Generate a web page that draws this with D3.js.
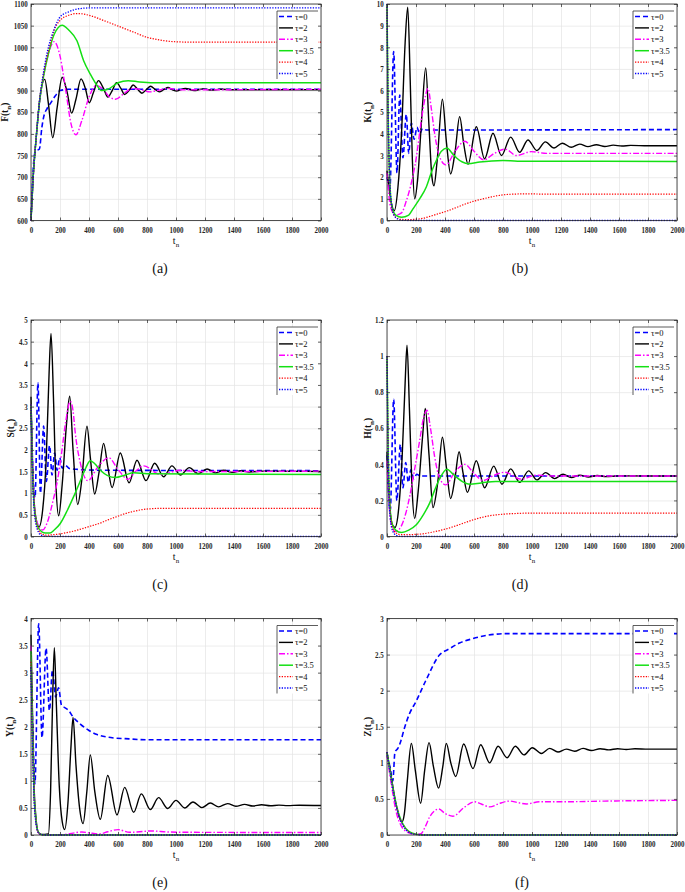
<!DOCTYPE html>
<html><head><meta charset="utf-8">
<script src="https://cdn.jsdelivr.net/npm/d3@7"></script>
<style>body{margin:0;background:#fff}svg{display:block}svg text{font-family:"Liberation Serif","DejaVu Serif",serif}</style>
</head><body>
<svg id="chart" width="685" height="892"></svg>
<script>
// ---------------- DATA ----------------
const xTicks = [0,200,400,600,800,1000,1200,1400,1600,1800,2000];
const tauLabels = ["τ=0","τ=2","τ=3","τ=3.5","τ=4","τ=5"];
const captions = ["(a)","(b)","(c)","(d)","(e)","(f)"];
const yNames = ["F","K","S","H","Y","Z"];

const F_ticks = [600,650,700,750,800,850,900,950,1000,1050,1100];
const K_ticks = [0,1,2,3,4,5,6,7,8,9,10];
const S_ticks = [0,0.5,1,1.5,2,2.5,3,3.5,4,4.5,5];
const H_ticks = [0,0.2,0.4,0.6,0.8,1,1.2];
const Y_ticks = [0,0.5,1,1.5,2,2.5,3,3.5,4];
const Z_ticks = [0,0.5,1,1.5,2,2.5,3];

// (a) F(t_n)
const F_tau0 = [[0,600],[12,700],[30,760],[58,765],[75,815],[88,840],[110,858],[133,870],[168,888],[202,900],[260,903],[2000,903]];
const F_tau2 = [[0,600],[15,700],[38,800],[60,878],[95,926],[120,870],[150,791],[180,860],[215,931],[250,895],[280,848],[310,880],[345,927],[375,905],[402,872],[430,895],[465,923],[500,905],[530,885],[560,900],[590,918],[620,905],[645,891],[675,900],[705,913],[735,903],[765,894],[795,902],[825,910],[855,903],[885,897],[915,902],[945,907],[975,902],[1005,899],[1065,905],[1125,900],[1185,904],[1245,901],[1305,903],[1400,902],[2000,902]];
const F_tau3 = [[0,600],[15,700],[38,800],[60,878],[85,930],[120,985],[160,1013],[200,980],[240,900],[275,825],[310,798],[350,830],[400,885],[450,912],[500,902],[540,886],[582,880],[640,893],[700,905],[760,902],[820,897],[880,901],[950,905],[1020,902],[1100,902],[2000,903]];
const F_tau35 = [[0,600],[15,700],[38,800],[60,878],[85,930],[120,985],[160,1030],[215,1051],[260,1040],[317,1015],[363,969],[409,938],[455,912],[485,900],[530,903],[600,918],[670,923],[750,920],[900,918],[2000,918]];
const F_tau4 = [[0,600],[15,700],[38,800],[60,880],[85,935],[120,990],[160,1040],[200,1062],[260,1074],[320,1078],[400,1074],[500,1062],[593,1050],[708,1035],[800,1023],[869,1018],[984,1013],[1100,1012],[2000,1012]];
const F_tau5 = [[0,600],[15,700],[38,800],[60,880],[85,940],[120,1000],[160,1042],[200,1070],[260,1082],[330,1089],[410,1091],[500,1091],[2000,1091]];

// (b) K(t_n)
const K_tau0 = [[0,2.0],[20,1.5],[46,7.8],[69,2.2],[88,5.8],[110,2.9],[133,4.9],[150,3.1],[168,4.5],[187,3.75],[207,4.3],[225,4.0],[245,4.25],[270,4.18],[2000,4.2]];
const K_tau2 = [[0,2.3],[25,1.0],[50,0.45],[75,1.5],[100,4.0],[125,8.2],[143,9.85],[160,6.5],[175,2.8],[191,1.0],[210,1.8],[240,4.8],[267,7.05],[290,4.3],[310,2.0],[324,1.6],[345,2.7],[382,5.6],[410,3.6],[439,2.15],[470,3.2],[501,4.8],[530,3.5],[559,2.6],[616,4.33],[673,2.85],[731,4.03],[789,3.0],[853,3.85],[915,3.15],[972,3.72],[1034,3.23],[1092,3.63],[1152,3.35],[1209,3.57],[1271,3.38],[1329,3.53],[1386,3.41],[1444,3.5],[1502,3.42],[1560,3.48],[1620,3.44],[1680,3.47],[1800,3.45],[2000,3.45]];
const K_tau3 = [[0,2.2],[25,0.6],[60,0.25],[100,0.35],[133,0.9],[170,1.8],[202,2.9],[230,4.3],[250,5.2],[283,6.1],[305,5.2],[329,4.0],[360,3.0],[405,2.57],[470,3.2],[536,3.66],[600,3.2],[667,2.8],[740,3.1],[816,3.3],[892,3.0],[995,3.18],[1100,3.1],[2000,3.1]];
const K_tau35 = [[0,10],[8,5],[18,2],[35,0.6],[60,0.25],[100,0.15],[150,0.25],[179,0.54],[225,1.0],[271,1.55],[310,2.3],[340,2.77],[375,3.2],[414,3.35],[450,3.1],[478,2.9],[520,2.7],[559,2.62],[640,2.7],[800,2.77],[900,2.74],[2000,2.73]];
const K_tau4 = [[0,10],[8,5],[18,2],[35,0.5],[60,0.15],[100,0.05],[150,0.04],[200,0.06],[248,0.1],[300,0.2],[363,0.33],[420,0.45],[478,0.6],[535,0.75],[593,0.88],[650,0.98],[708,1.07],[765,1.15],[823,1.2],[880,1.22],[950,1.23],[1100,1.22],[2000,1.22]];
const K_tau5 = [[0,10],[8,5],[18,2],[30,0.8],[45,0.3],[70,0.08],[100,0.01],[150,0],[2000,0]];

// (c) S(t_n)
const S_tau0 = [[0,3.05],[12,1.6],[28,0.9],[48,3.55],[65,1.0],[87,2.55],[106,1.27],[128,2.1],[145,1.42],[163,1.93],[180,1.53],[198,1.82],[215,1.58],[235,1.65],[265,1.57],[320,1.55],[500,1.53],[2000,1.52]];
const S_tau2 = [[0,3.23],[15,1.2],[35,0.4],[55,0.22],[80,0.6],[105,1.8],[125,3.8],[138,4.69],[155,3.2],[172,1.2],[191,0.48],[215,1.2],[245,2.6],[267,3.24],[290,2.0],[322,0.74],[350,1.3],[386,2.55],[410,1.8],[439,0.98],[470,1.5],[501,2.15],[530,1.6],[559,1.13],[616,1.93],[676,1.24],[731,1.76],[793,1.29],[853,1.69],[915,1.38],[972,1.63],[1030,1.42],[1092,1.59],[1152,1.45],[1214,1.56],[1271,1.47],[1329,1.53],[1388,1.48],[1446,1.52],[1505,1.49],[1600,1.51],[2000,1.5]];
const S_tau3 = [[0,3.05],[15,1.3],[35,0.4],[80,0.15],[120,0.4],[150,0.8],[179,1.23],[210,1.9],[237,2.6],[271,3.12],[290,2.9],[306,2.37],[340,1.7],[391,1.29],[460,1.6],[536,1.82],[600,1.55],[669,1.32],[720,1.5],[777,1.63],[892,1.43],[1030,1.53],[1150,1.5],[2000,1.51]];
const S_tau35 = [[0,3.05],[10,1.6],[25,0.6],[50,0.2],[100,0.08],[130,0.08],[160,0.15],[202,0.3],[250,0.6],[294,0.92],[352,1.38],[380,1.6],[409,1.75],[440,1.68],[478,1.53],[582,1.36],[650,1.42],[708,1.47],[800,1.45],[2000,1.43]];
const S_tau4 = [[0,3.05],[10,1.6],[25,0.6],[50,0.15],[80,0.05],[100,0.03],[150,0.04],[200,0.06],[248,0.09],[300,0.13],[363,0.19],[420,0.25],[478,0.31],[535,0.39],[593,0.46],[650,0.53],[708,0.58],[765,0.62],[823,0.64],[900,0.65],[2000,0.65]];
const S_tau5 = [[0,3.05],[10,1.5],[25,0.5],[45,0.15],[70,0.03],[100,0.005],[150,0],[2000,0]];

// (d) H(t_n)
const H_tau0 = [[0,0.45],[22,0.14],[46,0.76],[68,0.2],[92,0.51],[110,0.27],[129,0.41],[147,0.3],[165,0.37],[185,0.32],[205,0.345],[230,0.335],[2000,0.335]];
const H_tau2 = [[0,0.47],[20,0.15],[40,0.06],[55,0.05],[80,0.15],[105,0.45],[125,0.85],[138,1.06],[155,0.7],[172,0.28],[191,0.1],[215,0.25],[245,0.55],[264,0.71],[290,0.45],[317,0.16],[350,0.3],[382,0.55],[410,0.38],[439,0.21],[470,0.33],[497,0.47],[525,0.35],[554,0.245],[616,0.42],[673,0.27],[736,0.39],[793,0.29],[853,0.375],[915,0.30],[977,0.364],[1034,0.314],[1094,0.354],[1156,0.321],[1214,0.345],[1271,0.327],[1330,0.34],[1390,0.33],[1450,0.338],[1510,0.332],[1600,0.336],[2000,0.335]];
const H_tau3 = [[0,0.42],[20,0.12],[40,0.04],[60,0.028],[100,0.06],[130,0.13],[156,0.22],[190,0.37],[225,0.53],[250,0.65],[276,0.70],[300,0.6],[329,0.44],[360,0.33],[405,0.286],[470,0.36],[536,0.40],[600,0.35],[662,0.31],[740,0.34],[811,0.356],[926,0.318],[1030,0.34],[1150,0.335],[2000,0.335]];
const H_tau35 = [[0,1.0],[8,0.5],[18,0.2],[35,0.07],[60,0.035],[100,0.022],[150,0.035],[202,0.065],[250,0.12],[294,0.185],[330,0.26],[363,0.32],[414,0.373],[450,0.35],[478,0.33],[530,0.3],[570,0.29],[650,0.297],[750,0.305],[2000,0.305]];
const H_tau4 = [[0,1.0],[8,0.5],[18,0.2],[35,0.06],[60,0.02],[100,0.01],[150,0.01],[200,0.012],[248,0.015],[300,0.022],[363,0.033],[420,0.045],[478,0.06],[535,0.076],[593,0.092],[650,0.105],[708,0.115],[765,0.121],[823,0.125],[900,0.128],[1000,0.13],[2000,0.13]];
const H_tau5 = [[0,1.0],[8,0.45],[18,0.15],[35,0.04],[60,0.008],[100,0],[2000,0]];

// (e) Y(t_n)
const Y_tau0 = [[0,3.1],[12,2.0],[27,0.95],[53,3.9],[76,1.8],[104,3.45],[127,2.3],[148,3.05],[170,2.55],[190,2.72],[210,2.4],[235,2.35],[260,2.3],[290,2.18],[340,2.05],[400,1.93],[450,1.86],[550,1.8],[650,1.78],[800,1.76],[2000,1.76]];
const Y_tau2 = [[0,3.7],[10,2.3],[20,1.0],[35,0.3],[50,0.05],[70,0.01],[120,0.02],[135,0.8],[150,2.6],[161,3.46],[175,2.4],[195,0.9],[215,0.25],[232,0.1],[255,0.6],[275,1.6],[290,2.17],[310,1.3],[335,0.5],[359,0.21],[385,0.8],[409,1.48],[440,0.8],[478,0.29],[529,1.10],[593,0.37],[646,0.88],[708,0.42],[761,0.76],[823,0.47],[880,0.69],[943,0.49],[1000,0.64],[1060,0.5],[1117,0.61],[1179,0.505],[1237,0.59],[1294,0.52],[1356,0.58],[1413,0.53],[1473,0.565],[1530,0.535],[1590,0.558],[1650,0.54],[1710,0.552],[1770,0.543],[1850,0.55],[2000,0.545]];
const Y_tau3 = [[0,3.5],[10,2.0],[20,0.9],[35,0.25],[50,0.05],[70,0.005],[200,0.0],[260,0.02],[300,0.04],[350,0.055],[400,0.04],[470,0.02],[530,0.06],[600,0.1],[680,0.05],[750,0.06],[830,0.075],[950,0.055],[1100,0.05],[2000,0.045]];
const Y_tau35 = [[0,3.4],[10,1.9],[20,0.85],[35,0.25],[50,0.06],[70,0.01],[100,0],[2000,0]];
const Y_tau4 = [[0,3.2],[10,1.8],[20,0.8],[35,0.22],[50,0.05],[70,0.01],[100,0],[2000,0]];
const Y_tau5 = [[0,3.1],[10,1.7],[20,0.75],[35,0.2],[50,0.05],[70,0.01],[100,0],[2000,0]];

// (f) Z(t_n)
const Z_tau0 = [[0,1.1],[20,0.95],[40,0.75],[55,1.15],[75,1.2],[95,1.3],[120,1.48],[155,1.68],[200,1.85],[270,2.15],[360,2.49],[430,2.58],[500,2.66],[590,2.72],[700,2.77],[820,2.79],[2000,2.79]];
const Z_tau2 = [[0,1.15],[30,0.8],[60,0.45],[85,0.25],[103,0.18],[120,0.3],[140,0.75],[168,1.27],[195,0.9],[232,0.44],[260,0.9],[290,1.28],[320,0.95],[356,0.65],[385,0.95],[409,1.27],[440,1.0],[474,0.81],[529,1.26],[593,0.92],[646,1.25],[708,1.0],[766,1.23],[828,1.07],[885,1.23],[945,1.11],[1002,1.21],[1064,1.13],[1122,1.2],[1179,1.15],[1237,1.19],[1294,1.16],[1352,1.2],[1410,1.17],[1470,1.195],[1530,1.18],[1590,1.195],[1650,1.185],[1710,1.195],[1800,1.19],[2000,1.19]];
const Z_tau3 = [[0,1.1],[30,0.7],[60,0.35],[100,0.12],[150,0.03],[200,0.01],[235,0.02],[265,0.12],[294,0.25],[325,0.33],[356,0.36],[400,0.3],[455,0.26],[530,0.38],[605,0.46],[650,0.43],[708,0.39],[780,0.44],[846,0.47],[900,0.45],[961,0.43],[1050,0.46],[1200,0.46],[1500,0.47],[2000,0.48]];
const Z_tau35 = [[0,1.15],[20,0.9],[50,0.55],[80,0.3],[110,0.15],[150,0.05],[200,0.01],[250,0],[2000,0]];
const Z_tau4 = [[0,1.15],[20,0.89],[50,0.54],[80,0.29],[110,0.14],[150,0.045],[200,0.01],[250,0],[2000,0]];
const Z_tau5 = [[0,1.15],[20,0.88],[50,0.53],[80,0.28],[110,0.13],[150,0.04],[200,0.008],[250,0],[2000,0]];

// ---------------- STYLES / LAYOUT ----------------
const lineStyles = [
  {color:"#0000ff", width:1.6, dash:"5,3"},
  {color:"#000000", width:1.4, dash:null},
  {color:"#ff00ff", width:1.4, dash:"6,2,1.5,2"},
  {color:"#14e014", width:1.5, dash:null},
  {color:"#ff0000", width:1.2, dash:"1.3,1.4"},
  {color:"#0000ff", width:1.3, dash:"1.3,1.4"}
];
const W = 290, H = 216.5;
const panels = [
  {name:yNames[0], cap:captions[0], domain:[600,1100], ticks:F_ticks, data:[F_tau0,F_tau2,F_tau3,F_tau35,F_tau4,F_tau5], left:31, top:4, labOff:26, capX:160},
  {name:yNames[1], cap:captions[1], domain:[0,10], ticks:K_ticks, data:[K_tau0,K_tau2,K_tau3,K_tau35,K_tau4,K_tau5], left:387, top:4, labOff:19, capX:520},
  {name:yNames[2], cap:captions[2], domain:[0,5], ticks:S_ticks, data:[S_tau0,S_tau2,S_tau3,S_tau35,S_tau4,S_tau5], left:31, top:320, labOff:20, capX:160},
  {name:yNames[3], cap:captions[3], domain:[0,1.2], ticks:H_ticks, data:[H_tau0,H_tau2,H_tau3,H_tau35,H_tau4,H_tau5], left:387, top:320, labOff:19, capX:520},
  {name:yNames[4], cap:captions[4], domain:[0,4], ticks:Y_ticks, data:[Y_tau0,Y_tau2,Y_tau3,Y_tau35,Y_tau4,Y_tau5], left:31, top:618.5, labOff:21, capX:160},
  {name:yNames[5], cap:captions[5], domain:[0,3], ticks:Z_ticks, data:[Z_tau0,Z_tau2,Z_tau3,Z_tau35,Z_tau4,Z_tau5], left:387, top:618.5, labOff:19, capX:522}
];

const svg = d3.select("#chart");
svg.append("rect").attr("width",685).attr("height",892).attr("fill","#fff");

panels.forEach((p, pi) => {
  const g = svg.append("g").attr("transform", `translate(${p.left},${p.top})`);
  const x = d3.scaleLinear().domain([0,2000]).range([0,W]);
  const y = d3.scaleLinear().domain(p.domain).range([H,0]);

  // grid
  g.append("g").attr("transform",`translate(0,${H})`)
    .call(d3.axisBottom(x).tickValues(xTicks).tickSize(-H).tickFormat(""))
    .call(s=>{s.select(".domain").remove(); s.selectAll("line").attr("stroke","#e4e4e4").attr("stroke-width",0.7);});
  g.append("g")
    .call(d3.axisLeft(y).tickValues(p.ticks).tickSize(-W).tickFormat(""))
    .call(s=>{s.select(".domain").remove(); s.selectAll("line").attr("stroke","#e4e4e4").attr("stroke-width",0.7);});

  // clip
  const cid = "clip"+pi;
  g.append("clipPath").attr("id",cid).append("rect").attr("x",-1).attr("y",-1).attr("width",W+2).attr("height",H+2);

  const line = d3.line().x(d=>x(d[0])).y(d=>y(d[1])).curve(d3.curveMonotoneX);
  const lg = g.append("g").attr("clip-path",`url(#${cid})`);
  p.data.forEach((ser, si) => {
    const st = lineStyles[si];
    lg.append("path").datum(ser).attr("d",line)
      .attr("fill","none").attr("stroke",st.color).attr("stroke-width",st.width)
      .attr("stroke-dasharray",st.dash).attr("stroke-linejoin","round");
  });

  // box
  g.append("rect").attr("width",W).attr("height",H).attr("fill","none").attr("stroke","#262626").attr("stroke-width",0.8);
  // inward ticks on all sides
  const tk = (axis, tr) => g.append("g").attr("transform",tr).call(axis)
     .call(s=>{s.select(".domain").remove(); s.selectAll("line").attr("stroke","#262626").attr("stroke-width",0.7);});
  tk(d3.axisBottom(x).tickValues(xTicks).tickSize(-3).tickFormat(""), `translate(0,${H})`);
  tk(d3.axisTop(x).tickValues(xTicks).tickSize(-3).tickFormat(""), `translate(0,0)`);
  tk(d3.axisLeft(y).tickValues(p.ticks).tickSize(-3).tickFormat(""), `translate(0,0)`);
  tk(d3.axisRight(y).tickValues(p.ticks).tickSize(-3).tickFormat(""), `translate(${W},0)`);

  // tick labels
  const xa = g.append("g").attr("transform",`translate(0,${H})`)
    .call(d3.axisBottom(x).tickValues(xTicks).tickSize(0).tickPadding(6).tickFormat(d3.format("d")));
  xa.select(".domain").remove();
  xa.attr("font-family",null);
  xa.selectAll("text").attr("font-weight","bold").attr("font-size",8.5)
    .attr("fill","#262626").attr("transform","scale(0.82,1)");
  const ya = g.append("g")
    .call(d3.axisLeft(y).tickValues(p.ticks).tickSize(0).tickPadding(4).tickFormat(d3.format("~g")));
  ya.select(".domain").remove();
  ya.attr("font-family",null);
  ya.selectAll("text").attr("font-weight","bold").attr("font-size",8.5)
    .attr("fill","#262626").attr("transform","scale(0.82,1)");

  // axis labels
  const xl = g.append("text").attr("x",W/2).attr("y",H+23).attr("text-anchor","middle")
    .attr("font-size",10).attr("fill","#111");
  xl.append("tspan").text("t");
  xl.append("tspan").attr("dy",3).attr("font-size",7).text("n");

  const yl = g.append("text").attr("transform",`translate(${-p.labOff+3},${H/2}) rotate(-90)`)
    .attr("text-anchor","middle").attr("font-weight","bold").attr("font-size",9.5).attr("fill","#111");
  yl.append("tspan").text(p.name+"(t");
  yl.append("tspan").attr("dy",3).attr("font-size",7).text("n");
  yl.append("tspan").attr("dy",-3).text(")");

  // legend
  const lx = 246, ly = 7, lw = 41, lh = 68;
  const leg = g.append("g").attr("transform",`translate(${lx},${ly})`);
  leg.append("rect").attr("width",lw).attr("height",lh).attr("fill","#fff");
  leg.append("path").attr("d",`M0,${lh}V0H${lw}`).attr("fill","none").attr("stroke","#333").attr("stroke-width",0.8);
  tauLabels.forEach((t, i) => {
    const yy = 5.5 + i*11.4;
    const st = lineStyles[i];
    leg.append("line").attr("x1",2).attr("x2",16).attr("y1",yy).attr("y2",yy)
      .attr("stroke",st.color).attr("stroke-width",st.width).attr("stroke-dasharray",st.dash);
    leg.append("text").attr("x",18).attr("y",yy+3).attr("font-size",8.5)
      .attr("fill","#111").text(t);
  });

  // caption
  svg.append("text").attr("x",p.capX).attr("y",p.top+H+52).attr("text-anchor","middle")
    .attr("font-size",14).attr("fill","#111").text(p.cap);
});
</script>
</body></html>
